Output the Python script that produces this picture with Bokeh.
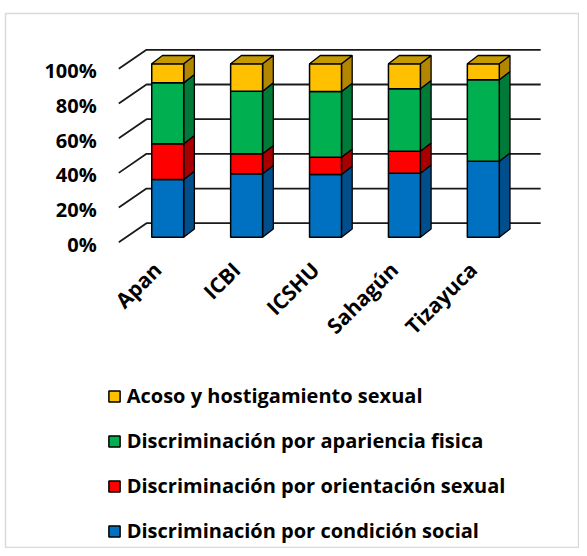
import numpy as np
from bokeh.plotting import figure
from bokeh.models import Range1d, Legend, LegendItem
from bokeh.core.properties import value
from bokeh.embed import file_html
from bokeh.resources import INLINE

# ---------------- data ----------------
categories = ["Apan", "ICBI", "ICSHU", "Sahagún", "Tizayuca"]
condicion_social = [33.3, 36.6, 36.2, 36.9, 43.8]
orientacion_sexual = [20.6, 11.5, 9.9, 12.7, 0.0]
apariencia_fisica = [35.1, 36.1, 37.9, 36.0, 47.0]
acoso = [11.0, 15.8, 16.0, 14.4, 9.2]
series_names = [
    "Discriminación por condición social",
    "Discriminación por orientación sexual",
    "Discriminación por apariencia fisica",
    "Acoso y hostigamiento sexual",
]
y_ticks = [0, 20, 40, 60, 80, 100]
y_tick_labels = ["0%", "20%", "40%", "60%", "80%", "100%"]

# ---------------- style ----------------
front_colors = ["#0070C0", "#FF0000", "#00B050", "#FFC000"]
side_colors = ["#004F8C", "#A80000", "#007A38", "#B38600"]
top_color = "#C49A00"
FONT = "Open Sans"

BAR_W = 0.405
DX, DY = 0.1356, 4.79          # bar depth offset (x units, percent units)
WALL_L, WALL_BACK_L, WALL_R = -0.62, -0.269, 4.727
WALL_BACK_DY, WALL_FRONT_DY = 8.07, -2.9

p = figure(width=579, height=548, output_backend="svg", toolbar_location=None,
           x_range=Range1d(-2.056, 5.219), y_range=Range1d(-179.5, 129.0),
           min_border_left=5, min_border_right=0, min_border_top=13, min_border_bottom=0,
           x_axis_type=None, y_axis_type=None)
p.grid.visible = False
p.outline_line_color = "#D9D9D9"
p.outline_line_width = 1.5
p.background_fill_color = "white"
p.border_fill_color = "white"

# ---------------- walls / grid ----------------
gxs = [[WALL_L, WALL_BACK_L, WALL_R] for t in y_ticks]
gys = [[t + WALL_FRONT_DY, t + WALL_BACK_DY, t + WALL_BACK_DY] for t in y_ticks]
p.multi_line(gxs, gys, line_color="#1A1A1A", line_width=1.8)

p.text(x=[WALL_L - 0.28] * len(y_ticks), y=[t - 4.0 for t in y_ticks], text=y_tick_labels,
       text_align="right", text_baseline="middle", text_font=value(FONT),
       text_font_style="bold", text_font_size="20px", text_color="black")

# ---------------- bars ----------------
xs = np.arange(len(categories), dtype=float)
series = [condicion_social, orientacion_sexual, apariencia_fisica, acoso]
bottom = np.zeros(len(categories))
front_renderers = []
for k, vals in enumerate(series):
    vals = np.array(vals, dtype=float)
    top = bottom + vals
    left = xs - BAR_W / 2
    right = xs + BAR_W / 2
    sx = [[r, r + DX, r + DX, r] for r in right]
    sy = [[b, b + DY, t + DY, t] for b, t in zip(bottom, top)]
    p.patches(sx, sy, fill_color=side_colors[k], line_color="black", line_width=1.3)
    fr = p.quad(left=left, right=right, bottom=bottom, top=top,
                fill_color=front_colors[k], line_color="black", line_width=1.5)
    front_renderers.append(fr)
    bottom = top

# top faces
left = xs - BAR_W / 2
right = xs + BAR_W / 2
tx = [[l, l + DX, r + DX, r] for l, r in zip(left, right)]
ty = [[t, t + DY, t + DY, t] for t in bottom]
p.patches(tx, ty, fill_color=top_color, line_color="black", line_width=1.3)

# category labels
p.text(x=xs - 0.13, y=[-16.5] * len(categories), text=categories, angle=np.pi / 4,
       text_align="right", text_baseline="middle", text_font=value(FONT),
       text_font_style="bold", text_font_size="21px", text_color="black")

# ---------------- legend ----------------
items = [LegendItem(label=series_names[k], renderers=[front_renderers[k]]) for k in [3, 2, 1, 0]]
legend = Legend(items=items, location=(101.7, 4), orientation="vertical",
                glyph_width=14, glyph_height=14, label_height=24, label_standoff=6,
                spacing=18, padding=0, margin=0,
                border_line_color=None, background_fill_alpha=0,
                label_text_font=FONT, label_text_font_style="bold",
                label_text_font_size="20px", label_text_color="black")
p.add_layout(legend)

open("out.html", "w").write(file_html(p, INLINE))
